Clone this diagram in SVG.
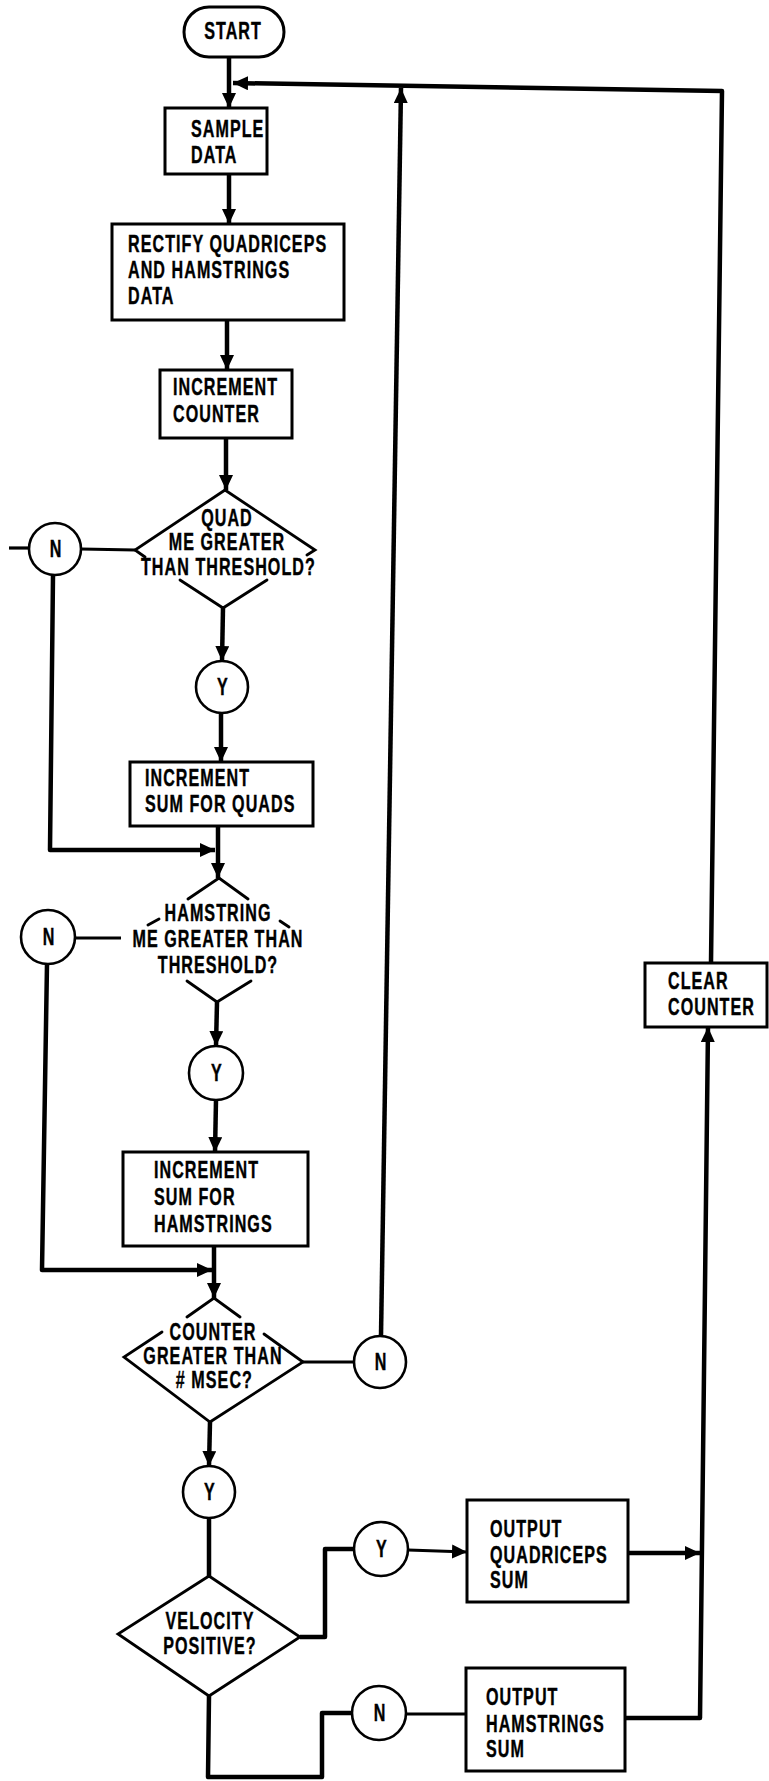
<svg xmlns="http://www.w3.org/2000/svg" width="769" height="1781" viewBox="0 0 769 1781">
  <defs>
    <marker id="arrow" markerUnits="userSpaceOnUse" markerWidth="16" markerHeight="14" refX="15" refY="7" orient="auto">
      <path d="M0,0 L15,7 L0,14 z" fill="#000"/>
    </marker>
    <style>
      .box { fill: #fff; stroke: #000; stroke-width: 3; }
      .dec { fill: none; stroke: #000; stroke-width: 2.8; stroke-linejoin: miter; stroke-linecap: round; }
      .circ { fill: #fff; stroke: #000; stroke-width: 2.6; }
      .wire { fill: none; stroke: #000; stroke-width: 4.5; stroke-linejoin: round; }
      .thin { fill: none; stroke: #000; stroke-width: 3.2; stroke-linejoin: round; }
      .lbl { font-family: "Liberation Sans", Arial, sans-serif; font-weight: bold; font-size: 23px; letter-spacing: 1.5px; fill: #000; stroke: #000; stroke-width: 0.4; }
      .mid { text-anchor: middle; }
    </style>
  </defs>
  <rect width="769" height="1781" fill="#fff"/>

  <!-- connectors -->
  <g id="connectors">
    <path class="wire" d="M229,57 L229,108" marker-end="url(#arrow)"/>
    <path class="wire" d="M711,963 L722,91 L233,83" marker-end="url(#arrow)"/>
    <path class="wire" d="M229,174 L229,224" marker-end="url(#arrow)"/>
    <path class="wire" d="M227,320 L227,370" marker-end="url(#arrow)"/>
    <path class="wire" d="M226,438 L226,490" marker-end="url(#arrow)"/>
    <path class="thin" d="M9,548 L29,548"/>
    <path class="thin" d="M81,549 L135,550"/>
    <path class="wire" d="M53,575 L50,850 L215,850" marker-end="url(#arrow)"/>
    <path class="wire" d="M223,608 L222,661" marker-end="url(#arrow)"/>
    <path class="wire" d="M221,713 L221,762" marker-end="url(#arrow)"/>
    <path class="wire" d="M218,826 L218,878" marker-end="url(#arrow)"/>
    <path class="thin" d="M75,938 L121,938"/>
    <path class="wire" d="M47,964 L42,1270 L212,1270" marker-end="url(#arrow)"/>
    <path class="wire" d="M217,1002 L216,1046" marker-end="url(#arrow)"/>
    <path class="wire" d="M216,1100 L215,1152" marker-end="url(#arrow)"/>
    <path class="wire" d="M214,1246 L214,1298" marker-end="url(#arrow)"/>
    <path class="thin" d="M303,1362 L354,1362"/>
    <path class="wire" d="M381,1336 L401,88" marker-end="url(#arrow)"/>
    <path class="wire" d="M210,1422 L209,1466" marker-end="url(#arrow)"/>
    <path class="wire" d="M209,1518 L209,1576"/>
    <path class="wire" d="M300,1637 L325,1637 L325,1549 L354,1549"/>
    <path class="thin" d="M408,1550 L467,1552" marker-end="url(#arrow)"/>
    <path class="wire" d="M628,1553 L700,1553" marker-end="url(#arrow)"/>
    <path class="wire" d="M209,1696 L208,1777 L322,1777 L322,1713 L352,1713"/>
    <path class="thin" d="M406,1714 L466,1714"/>
    <path class="wire" d="M625,1718 L700,1718 L708,1027" marker-end="url(#arrow)"/>
  </g>

  <!-- nodes -->
  <g id="start">
    <rect x="184" y="7" width="100" height="50" rx="25" class="box"/>
    <text class="lbl mid" transform="matrix(0.7 0 0 1 233 39)">START</text>
  </g>

  <g id="sample-data">
    <rect x="165" y="108" width="102" height="66" class="box"/>
    <text class="lbl" transform="matrix(0.7 0 0 1 191 137)"><tspan x="0" y="0">SAMPLE</tspan><tspan x="0" y="26">DATA</tspan></text>
  </g>

  <g id="rectify">
    <rect x="112" y="224" width="232" height="96" class="box"/>
    <text class="lbl" transform="matrix(0.7 0 0 1 128 252)"><tspan x="0" y="0">RECTIFY QUADRICEPS</tspan><tspan x="0" y="26">AND HAMSTRINGS</tspan><tspan x="0" y="52">DATA</tspan></text>
  </g>

  <g id="increment-counter">
    <rect x="160" y="370" width="132" height="68" class="box"/>
    <text class="lbl" transform="matrix(0.7 0 0 1 173 395)"><tspan x="0" y="0">INCREMENT</tspan><tspan x="0" y="27">COUNTER</tspan></text>
  </g>

  <g id="quad-test">
    <path class="dec" d="M145,557 L135,550 L225,490 L315,550 L307,555 M180,580 L223,608 L267,580"/>
    <text class="lbl mid" transform="matrix(0.7 0 0 1 227 526)"><tspan x="0" y="0">QUAD</tspan><tspan x="0" y="24">ME GREATER</tspan><tspan x="2" y="49">THAN THRESHOLD?</tspan></text>
  </g>

  <g id="quad-no">
    <circle cx="55" cy="549" r="26" class="circ"/>
    <text class="lbl mid" transform="matrix(0.7 0 0 1 56 557)">N</text>
  </g>

  <g id="quad-yes">
    <circle cx="222" cy="687" r="26" class="circ"/>
    <text class="lbl mid" transform="matrix(0.7 0 0 1 223 695)">Y</text>
  </g>

  <g id="sum-quads">
    <rect x="130" y="762" width="183" height="64" class="box"/>
    <text class="lbl" transform="matrix(0.7 0 0 1 145 786)"><tspan x="0" y="0">INCREMENT</tspan><tspan x="0" y="26">SUM FOR QUADS</tspan></text>
  </g>

  <g id="hamstring-test">
    <path class="dec" d="M188,899 L219,878 L248,899 M148,925 L159,919 M280,921 L289,927 M187,981 L217,1002 L251,981"/>
    <text class="lbl mid" transform="matrix(0.7 0 0 1 218 921)"><tspan x="0" y="0">HAMSTRING</tspan><tspan x="0" y="26">ME GREATER THAN</tspan><tspan x="0" y="52">THRESHOLD?</tspan></text>
  </g>

  <g id="hamstring-no">
    <circle cx="48" cy="937" r="27" class="circ"/>
    <text class="lbl mid" transform="matrix(0.7 0 0 1 49 945)">N</text>
  </g>

  <g id="hamstring-yes">
    <circle cx="216" cy="1073" r="27" class="circ"/>
    <text class="lbl mid" transform="matrix(0.7 0 0 1 217 1081)">Y</text>
  </g>

  <g id="sum-hamstrings">
    <rect x="123" y="1152" width="185" height="94" class="box"/>
    <text class="lbl" transform="matrix(0.7 0 0 1 154 1178)"><tspan x="0" y="0">INCREMENT</tspan><tspan x="0" y="27">SUM FOR</tspan><tspan x="0" y="54">HAMSTRINGS</tspan></text>
  </g>

  <g id="counter-test">
    <path class="dec" d="M187,1317 L214,1298 L240,1317 M162,1332 L124,1357 L210,1422 L303,1362 L264,1334"/>
    <text class="lbl mid" transform="matrix(0.7 0 0 1 213 1340)"><tspan x="0" y="0">COUNTER</tspan><tspan x="0" y="24">GREATER THAN</tspan><tspan x="2" y="48"># MSEC?</tspan></text>
  </g>

  <g id="counter-no">
    <circle cx="380" cy="1362" r="26" class="circ"/>
    <text class="lbl mid" transform="matrix(0.7 0 0 1 381 1370)">N</text>
  </g>

  <g id="counter-yes">
    <circle cx="209" cy="1492" r="26" class="circ"/>
    <text class="lbl mid" transform="matrix(0.7 0 0 1 210 1500)">Y</text>
  </g>

  <g id="velocity-test">
    <path class="dec" d="M209,1576 L300,1637 L209,1696 L118,1634 Z"/>
    <text class="lbl mid" transform="matrix(0.7 0 0 1 210 1629)"><tspan x="0" y="0">VELOCITY</tspan><tspan x="0" y="25">POSITIVE?</tspan></text>
  </g>

  <g id="velocity-yes">
    <circle cx="381" cy="1549" r="27" class="circ"/>
    <text class="lbl mid" transform="matrix(0.7 0 0 1 382 1557)">Y</text>
  </g>

  <g id="velocity-no">
    <circle cx="379" cy="1713" r="27" class="circ"/>
    <text class="lbl mid" transform="matrix(0.7 0 0 1 380 1721)">N</text>
  </g>

  <g id="output-quadriceps">
    <rect x="467" y="1500" width="161" height="102" class="box"/>
    <text class="lbl" transform="matrix(0.7 0 0 1 490 1537)"><tspan x="0" y="0">OUTPUT</tspan><tspan x="0" y="26">QUADRICEPS</tspan><tspan x="0" y="51">SUM</tspan></text>
  </g>

  <g id="output-hamstrings">
    <rect x="466" y="1668" width="159" height="103" class="box"/>
    <text class="lbl" transform="matrix(0.7 0 0 1 486 1705)"><tspan x="0" y="0">OUTPUT</tspan><tspan x="0" y="27">HAMSTRINGS</tspan><tspan x="0" y="52">SUM</tspan></text>
  </g>

  <g id="clear-counter">
    <rect x="645" y="963" width="122" height="64" class="box"/>
    <text class="lbl" transform="matrix(0.7 0 0 1 668 989)"><tspan x="0" y="0">CLEAR</tspan><tspan x="0" y="26">COUNTER</tspan></text>
  </g>
</svg>
